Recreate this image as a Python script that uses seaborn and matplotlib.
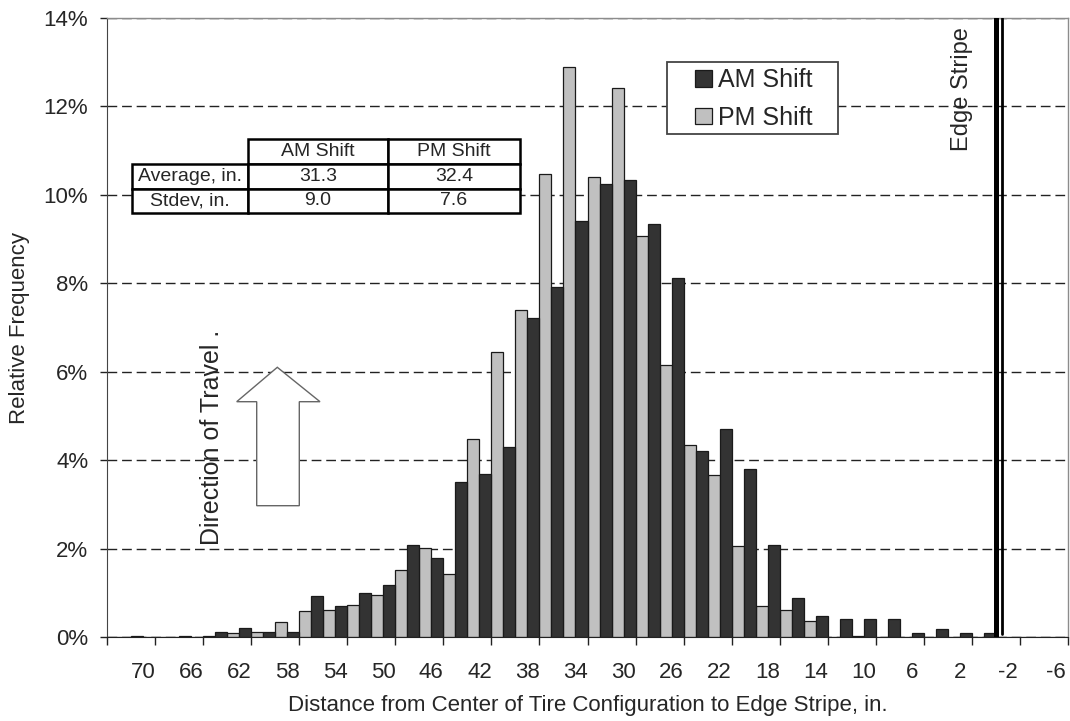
import numpy as np
import pandas as pd
import seaborn as sns
import matplotlib.pyplot as plt
from matplotlib.patches import Polygon, Rectangle
from matplotlib.ticker import PercentFormatter

# distance bins (in.), 2-inch bins, left to right
distance = list(range(72, -7, -2))
am_shift = [0, 0, 0, 0, 0.12, 0.20, 0.11, 0.11, 0.92, 0.70,
            0.99, 1.18, 2.08, 1.79, 3.50, 3.69, 4.29, 7.21, 7.92, 9.42,
            10.24, 10.34, 9.34, 8.11, 4.21, 4.70, 3.80, 2.08, 0.89, 0.47,
            0.40, 0.40, 0.40, 0.09, 0.19, 0.10, 0.10, 0, 0, 0]
pm_shift = [0, 0.03, 0, 0.03, 0.03, 0.08, 0.11, 0.34, 0.58, 0.62,
            0.73, 0.94, 1.51, 2.02, 1.43, 4.48, 6.44, 7.40, 10.48, 12.90,
            10.40, 12.41, 9.06, 6.15, 4.34, 3.66, 2.05, 0.71, 0.62, 0.36,
            0, 0.02, 0, 0, 0, 0, 0, 0, 0, 0]

stat_header = ['', 'AM Shift', 'PM Shift']
stat_avg = ['Average, in.', '31.3', '32.4']
stat_std = ['Stdev, in.', '9.0', '7.6']

edge_stripe = [-1.0, -1.52]   # double line position (in.)

sns.set_style('white')
plt.rcParams['font.family'] = ['Liberation Sans', 'DejaVu Sans']

df = pd.DataFrame({
    'distance': [str(d) for d in distance] * 2,
    'freq': am_shift + pm_shift,
    'shift': ['AM Shift'] * len(distance) + ['PM Shift'] * len(distance),
})
order = [str(d) for d in distance]

fig = plt.figure(figsize=(10.7, 7.21), dpi=100)
ax = fig.add_axes([107 / 1070, 1 - 637 / 721, 961 / 1070, 619 / 721])

sns.barplot(data=df, x='distance', y='freq', hue='shift', order=order,
            hue_order=['PM Shift', 'AM Shift'],
            palette={'AM Shift': '#333333', 'PM Shift': '#c0c0c0'},
            width=1.0, saturation=1, edgecolor='#1a1a1a', linewidth=0.9,
            ax=ax)

def idx(d):
    return (distance[0] - d) / 2

ax.set_ylim(0, 14)
ax.set_xlim(-0.5, len(distance) - 0.5)
ax.set_yticks(np.arange(0, 15, 2))
ax.yaxis.set_major_formatter(PercentFormatter(decimals=0))
ax.set_axisbelow(True)
ax.yaxis.grid(True, color='#222222', linestyle=(0, (7, 3.5)), linewidth=1)

# boundaries get tick marks, every other bin gets a label
ax.set_xticks(np.arange(-0.5, len(distance), 2))
ax.set_xticklabels([])
ax.set_xticks(np.arange(1, len(distance), 2), minor=True)
ax.set_xticklabels([str(d) for d in distance[1::2]], minor=True)
ax.tick_params(axis='x', which='major', direction='out', length=6, width=1,
               color='#222222', bottom=True)
ax.tick_params(axis='x', which='minor', length=0, pad=18, labelsize=16)
ax.tick_params(axis='y', direction='out', length=5, width=1, color='#222222',
               left=True, pad=8.5, labelsize=16)

for s in ['top', 'right']:
    ax.spines[s].set_color('#8c8c8c')
    ax.spines[s].set_linewidth(1)
ax.spines['left'].set_color('#444444')
ax.spines['bottom'].set_color('#222222')

ax.set_xlabel('Distance from Center of Tire Configuration to Edge Stripe, in.',
              fontsize=16)
ax.set_ylabel('Relative Frequency', fontsize=16)
ax.xaxis.set_label_coords(0.5, -0.093)
ax.yaxis.set_label_coords(-0.08, 0.5)

# edge stripe
ax.axvline(idx(edge_stripe[0]), color='black', lw=3.6, zorder=4)
ax.axvline(idx(edge_stripe[1]), ymin=0.005, color='black', lw=2, zorder=4)
ax.text(0.8897, 0.885, 'Edge Stripe', transform=ax.transAxes, rotation=90,
        ha='center', va='center', fontsize=17)

# direction of travel arrow
arrow_px = [(277.3, 367.3), (320, 401.7), (299.3, 401.7), (299.3, 505.7),
            (256.7, 505.7), (256.7, 401.7), (236.7, 401.7)]
arrow_ax = [((x - 107) / 961, (637 - y) / 619) for x, y in arrow_px]
ax.add_patch(Polygon(arrow_ax, closed=True, transform=ax.transAxes,
                     facecolor='white', edgecolor='#666666', lw=1, zorder=5))
ax.text(0.109, 0.323, 'Direction of Travel .', transform=ax.transAxes,
        rotation=90, ha='center', va='center', fontsize=18)

# legend, AM first; box drawn separately for the wide Excel-style padding
ax.add_patch(Rectangle((667 / 1070, 1 - 134 / 721), 171 / 1070, 72 / 721,
                       transform=fig.transFigure, facecolor='white',
                       edgecolor='#444444', lw=1.3, zorder=4))
handles, labels = ax.get_legend_handles_labels()
lg = ax.legend(handles[::-1], labels[::-1], loc='upper left',
               bbox_to_anchor=(695 / 1070, 1 - 68 / 721),
               bbox_transform=fig.transFigure, fontsize=18, frameon=False,
               handlelength=0.66, handleheight=0.66, handletextpad=0.24,
               borderpad=0, labelspacing=0.55, borderaxespad=0)
lg.set_zorder(6)

# stats table
tbl = ax.table(cellText=[stat_header, stat_avg, stat_std],
               cellLoc='center', colWidths=[0.30, 0.36, 0.34],
               bbox=[24.7 / 961, (637 - 213.3) / 619, 388.3 / 961, 74 / 619])
tbl.auto_set_font_size(False)
tbl.set_fontsize(14)
tbl.set_zorder(6)
for (r, c), cell in tbl.get_celld().items():
    cell.set_linewidth(1.8)
    cell.set_edgecolor('black')
    cell.set_facecolor('white')
    cell.PAD = 0.02
tbl[0, 0].set_edgecolor('none')
tbl[0, 0].set_facecolor('none')

fig.savefig('out.png', dpi=100)
